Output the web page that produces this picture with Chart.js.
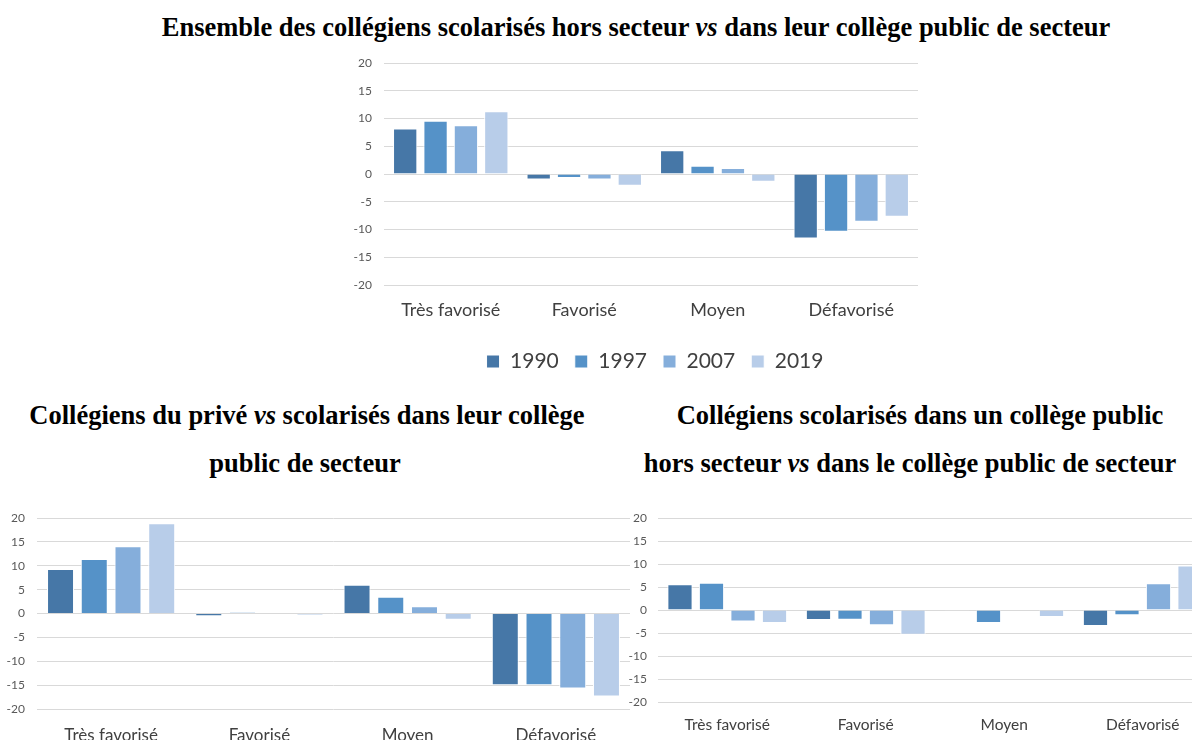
<!DOCTYPE html>
<html><head><meta charset="utf-8">
<script src="https://cdn.jsdelivr.net/npm/chart.js@4.4.1/dist/chart.umd.min.js"></script>
<style>
html,body{margin:0;padding:0;background:#fff;width:1192px;height:740px;overflow:hidden;position:relative}
.t{position:absolute;font-family:"Liberation Serif","Times New Roman",serif;font-weight:bold;font-size:26.5px;color:#000;text-align:center;white-space:nowrap;line-height:30px}
.box{position:absolute;overflow:hidden}
canvas{display:block}
</style></head><body>
<div class="t" style="left:0;width:1272px;top:12px;">Ensemble des collégiens scolarisés hors secteur <i>vs</i> dans leur collège public de secteur</div>
<div class="t" style="left:0;width:614px;top:400px;">Collégiens du privé <i>vs</i> scolarisés dans leur collège</div>
<div class="t" style="left:0;width:610px;top:448px;">public de secteur</div>
<div class="t" style="left:620px;width:600px;top:400px;">Collégiens scolarisés dans un collège public</div>
<div class="t" style="left:620px;width:580px;top:448px;">hors secteur <i>vs</i> dans le collège public de secteur</div>

<div class="box" style="left:340px;top:50px;width:640px;height:340px;"><canvas id="c1" width="630" height="332" style="width:630px;height:332px"></canvas></div>
<div class="box" style="left:0;top:505px;width:640px;height:235px;"><canvas id="c2" width="640" height="260" style="width:640px;height:260px"></canvas></div>
<div class="box" style="left:620px;top:505px;width:572px;height:235px;"><canvas id="c3" width="620" height="250" style="width:620px;height:250px"></canvas></div>

<script>
const categories = ["Très favorisé", "Favorisé", "Moyen", "Défavorisé"];
const years = ["1990", "1997", "2007", "2019"];
const yTicks = [20, 15, 10, 5, 0, -5, -10, -15, -20];

// Ensemble des collégiens scolarisés hors secteur vs dans leur collège public de secteur
const ens1990 = [8.2, -1.0, 4.3, -11.6];
const ens1997 = [9.6, -0.7, 1.5, -10.4];
const ens2007 = [8.8, -1.0, 1.1, -8.6];
const ens2019 = [11.3, -2.1, -1.4, -7.7];

// Collégiens du privé vs scolarisés dans leur collège public de secteur
const priv1990 = [9.3, -0.55, 6.0, -15.0];
const priv1997 = [11.4, 0.25, 3.5, -15.0];
const priv2007 = [14.1, 0.0, 1.5, -15.7];
const priv2019 = [18.9, -0.35, -1.3, -17.4];

// Collégiens scolarisés dans un collège public hors secteur vs dans le collège public de secteur
const pub1990 = [5.6, -2.2, -0.15, -3.5];
const pub1997 = [5.9, -2.1, -2.8, -1.15];
const pub2007 = [-2.5, -3.3, -0.1, 5.8];
const pub2019 = [-2.8, -5.4, -1.5, 9.7];

const colors = ["#4677a7", "#5592c8", "#85aedb", "#b8cde9"];
Chart.defaults.font.family = "Lato, 'Open Sans', sans-serif";
Chart.defaults.animation = false;

function ds(arrs){
  return arrs.map((a,i)=>({label:years[i],data:a,backgroundColor:colors[i],borderColor:"#ffffff",borderWidth:1,
    categoryPercentage:0.91,barPercentage:0.8}));
}
function make(id, arrs, o){
  const scales = {
    x:{grid:{display:false,drawTicks:false},border:{display:false},
       ticks:{padding:o.xPad,color:"#404040",font:{size:o.xFont}},
       afterFit:s=>{s.height=o.xH;}},
    y:{min:-20,max:20,
       afterBuildTicks:s=>{s.ticks=yTicks.map(v=>({value:v}));},
       grid:{color:"#d9d9d9",lineWidth:1,drawTicks:false},border:{display:false},
       ticks:{padding:o.yPad,color:"#595959",font:{size:12}},
       afterFit:s=>{s.width=o.yW;s.paddingTop=0;s.paddingBottom=0;}}
  };
  if(o.rightW){
    scales.y2={position:"right",display:true,min:-20,max:20,grid:{display:false,drawTicks:false},
      border:{display:false},ticks:{display:false},afterFit:s=>{s.width=o.rightW;s.paddingTop=0;s.paddingBottom=0;}};
  }
  new Chart(document.getElementById(id),{
    type:"bar",
    data:{labels:categories,datasets:ds(arrs)},
    options:{
      responsive:false,
      layout:{padding:o.pad},
      plugins:{
        legend:o.legend?{display:true,position:"bottom",
          labels:{boxWidth:13,boxHeight:13,padding:o.legendPad,color:"#404040",font:{size:21}}}:{display:false},
        tooltip:{enabled:false}
      },
      scales:scales
    }
  });
}
make("c1",[ens1990,ens1997,ens2007,ens2019],{pad:{top:13,right:0,bottom:0,left:0},yW:44,rightW:52,yPad:12,xPad:14,xFont:18,xH:50,legend:true,legendPad:16});
make("c2",[priv1990,priv1997,priv2007,priv2019],{pad:{top:13,right:10,bottom:17,left:0},yW:37,yPad:12,xPad:16,xFont:17,xH:39,legend:false});
make("c3",[pub1990,pub1997,pub2007,pub2019],{pad:{top:13,right:28,bottom:20,left:0},yW:38,yPad:11,xPad:14,xFont:15.5,xH:33,legend:false});
</script>
</body></html>
